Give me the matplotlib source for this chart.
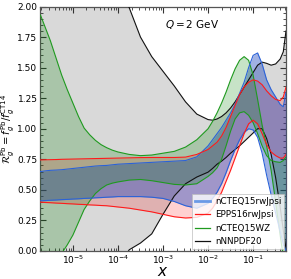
import numpy as np
import matplotlib
matplotlib.use("Agg")
import matplotlib.pyplot as plt
from matplotlib.lines import Line2D
from matplotlib.ticker import MultipleLocator, LogLocator, NullFormatter, FormatStrFormatter

# common log10(x) grid at which all curves were read
logx = [-5.72, -5.625, -5.5, -5.375, -5.25, -5.125, -5.0, -4.875, -4.75, -4.625, -4.5,
        -4.375, -4.25, -4.125, -4.0, -3.75, -3.5, -3.25, -3.0,
        -2.75, -2.5, -2.25, -2.0, -1.9, -1.8, -1.7, -1.6, -1.5, -1.4, -1.3, -1.2,
        -1.1, -1.0, -0.9, -0.8, -0.7, -0.6, -0.5, -0.4, -0.33, -0.27]

# nNNPDF20 (gray band)
nnpdf_hi = [4.2, 4.07, 3.9, 3.75, 3.6, 3.45, 3.3, 3.15, 3.0, 2.87, 2.75,
            2.62, 2.5, 2.37, 2.25, 1.99, 1.75, 1.59, 1.47,
            1.35, 1.22, 1.12, 1.075, 1.07, 1.08, 1.10, 1.13, 1.17, 1.22, 1.28, 1.34,
            1.40, 1.46, 1.52, 1.545, 1.535, 1.52, 1.53, 1.57, 1.63, 1.80]
nnpdf_lo = [-2.5, -2.3, -2.0, -1.8, -1.6, -1.4, -1.2, -1.05, -0.9, -0.75, -0.6,
            -0.47, -0.35, -0.25, -0.15, 0.01, 0.065, 0.14, 0.30,
            0.45, 0.55, 0.605, 0.645, 0.675, 0.71, 0.735, 0.765, 0.80, 0.83, 0.86, 0.895,
            0.93, 0.965, 1.0, 1.0, 0.92, 0.79, 0.60, 0.36, 0.17, 0.02]

# nCTEQ15WZ (green band)
wz_a = [1.93, 1.84, 1.72, 1.58, 1.44, 1.32, 1.21, 1.10, 1.005, 0.95, 0.905,
        0.87, 0.845, 0.825, 0.81, 0.79, 0.78, 0.785, 0.80,
        0.815, 0.85, 0.91, 1.00, 1.06, 1.13, 1.21, 1.30, 1.40, 1.49, 1.56, 1.59,
        1.56, 1.44, 1.24, 1.03, 0.86, 0.66, 0.40, 0.13, -0.05, -0.2]
wz_b = [-0.6, -0.45, -0.3, -0.15, -0.02, 0.05, 0.13, 0.235, 0.34, 0.41, 0.47,
        0.51, 0.54, 0.555, 0.565, 0.58, 0.585, 0.575, 0.56,
        0.545, 0.54, 0.55, 0.61, 0.64, 0.68, 0.75, 0.86, 0.98, 1.08, 1.13, 1.14,
        1.11, 1.05, 0.96, 0.86, 0.78, 0.74, 0.73, 0.725, 0.74, 0.77]

# nCTEQ15rwJpsi (blue band)
rwj_hi = [0.65, 0.655, 0.66, 0.662, 0.665, 0.67, 0.675, 0.68, 0.685, 0.69, 0.695,
          0.698, 0.70, 0.705, 0.71, 0.715, 0.72, 0.725, 0.73,
          0.735, 0.74, 0.77, 0.86, 0.91, 0.96, 1.01, 1.07, 1.13, 1.20, 1.29, 1.38,
          1.50, 1.60, 1.62, 1.53, 1.40, 1.32, 1.26, 1.20, 1.18, 1.30]
rwj_lo = [0.41, 0.412, 0.415, 0.417, 0.42, 0.422, 0.425, 0.427, 0.43, 0.432, 0.435,
          0.437, 0.44, 0.442, 0.445, 0.445, 0.445, 0.44, 0.43,
          0.405, 0.37, 0.35, 0.39, 0.43, 0.48, 0.55, 0.64, 0.74, 0.83, 0.91, 0.97,
          1.00, 0.99, 0.93, 0.80, 0.62, 0.46, 0.31, 0.16, 0.06, 0.0]

# EPPS16rwJpsi (red band)
epps_hi = [0.745, 0.746, 0.747, 0.748, 0.75, 0.751, 0.752, 0.753, 0.754, 0.755, 0.756,
           0.757, 0.758, 0.759, 0.76, 0.762, 0.764, 0.765, 0.765,
           0.765, 0.768, 0.79, 0.83, 0.86, 0.89, 0.94, 1.01, 1.10, 1.19, 1.28, 1.34,
           1.38, 1.40, 1.39, 1.36, 1.31, 1.27, 1.24, 1.23, 1.26, 1.34]
epps_lo = [0.40, 0.397, 0.395, 0.392, 0.39, 0.387, 0.385, 0.382, 0.38, 0.377, 0.375,
           0.372, 0.37, 0.365, 0.36, 0.35, 0.335, 0.32, 0.30,
           0.28, 0.27, 0.275, 0.31, 0.35, 0.41, 0.48, 0.57, 0.66, 0.76, 0.86, 0.96,
           1.04, 1.07, 1.04, 0.96, 0.87, 0.81, 0.78, 0.76, 0.76, 0.79]

labels = ["nCTEQ15rwJpsi", "EPPS16rwJpsi", "nCTEQ15WZ", "nNNPDF20"]

x = 10.0 ** np.array(logx)

fig = plt.figure(figsize=(2.91, 2.79), dpi=100)
ax = fig.add_axes([40/291, 1-251/279, 246/291, 244.5/279])

c_blue = "#2a62d8"
c_red = "#ff1a1a"
c_green = "#1f9a1f"
c_black = "#111111"

ax.fill_between(x, nnpdf_lo, nnpdf_hi, color="#d9d9d9", lw=0, zorder=1)
ax.fill_between(x, epps_lo, epps_hi, color="red", alpha=0.18, lw=0, zorder=2)
ax.fill_between(x, rwj_lo, rwj_hi, color="#1e46be", alpha=0.42, lw=0, zorder=3)
ax.fill_between(x, wz_b, wz_a, color="green", alpha=0.22, lw=0, zorder=4)

lw = 0.8
ax.plot(x, nnpdf_hi, color=c_black, lw=lw, zorder=5)
ax.plot(x, nnpdf_lo, color=c_black, lw=lw, zorder=5)
ax.plot(x, wz_a, color=c_green, lw=lw, zorder=6)
ax.plot(x, wz_b, color=c_green, lw=lw, zorder=6)
ax.plot(x, rwj_hi, color=c_blue, lw=lw, zorder=7)
ax.plot(x, rwj_lo, color=c_blue, lw=lw, zorder=7)
ax.plot(x, epps_hi, color=c_red, lw=lw, zorder=8)
ax.plot(x, epps_lo, color=c_red, lw=lw, zorder=8)

ax.set_xscale("log")
ax.set_xlim(10**-5.73, 10**-0.27)
ax.set_ylim(0, 2.0)
ax.yaxis.set_major_locator(MultipleLocator(0.25))
ax.yaxis.set_minor_locator(MultipleLocator(0.05))
ax.yaxis.set_major_formatter(FormatStrFormatter("%.2f"))
ax.xaxis.set_major_locator(LogLocator(base=10, numticks=20))
ax.xaxis.set_minor_locator(LogLocator(base=10, subs=np.arange(2, 10), numticks=20))
ax.xaxis.set_minor_formatter(NullFormatter())
ax.tick_params(which="both", direction="in", top=True, right=True, labelsize=6.5,
               colors="#333333", labelcolor="black", pad=1.8)
ax.tick_params(which="major", length=4, width=0.8)
ax.tick_params(which="minor", length=2, width=0.6)
for s in ax.spines.values():
    s.set_color("#555555")
    s.set_linewidth(0.9)

ax.set_xlabel(r"$x$", fontsize=11)
ax.xaxis.set_label_coords(0.5, -0.055)
ax.set_ylabel(r"$\mathcal{R}_g^{\rm Pb} = f_g^{\rm Pb}/f_g^{\rm CT14}$", fontsize=7.2)
ax.yaxis.set_label_coords(-0.095, 0.5)
ax.text(0.51, 0.925, r"$Q = 2$ GeV", transform=ax.transAxes, fontsize=7.5,
        va="center", ha="left", zorder=10)

handles = [Line2D([], [], color="#6a9ae6", lw=2.0),
           Line2D([], [], color=c_red, lw=0.9),
           Line2D([], [], color=c_green, lw=0.9),
           Line2D([], [], color=c_black, lw=0.9)]
leg = ax.legend(handles, labels, loc="lower right", fontsize=6.3, frameon=True,
                borderaxespad=0.2, labelspacing=0.5, handlelength=1.8,
                handletextpad=0.5, borderpad=0.35, fancybox=False)
leg.get_frame().set_edgecolor("#bbbbbb")
leg.get_frame().set_linewidth(0.6)
leg.set_zorder(20)

fig.savefig("out.png", dpi=100)
